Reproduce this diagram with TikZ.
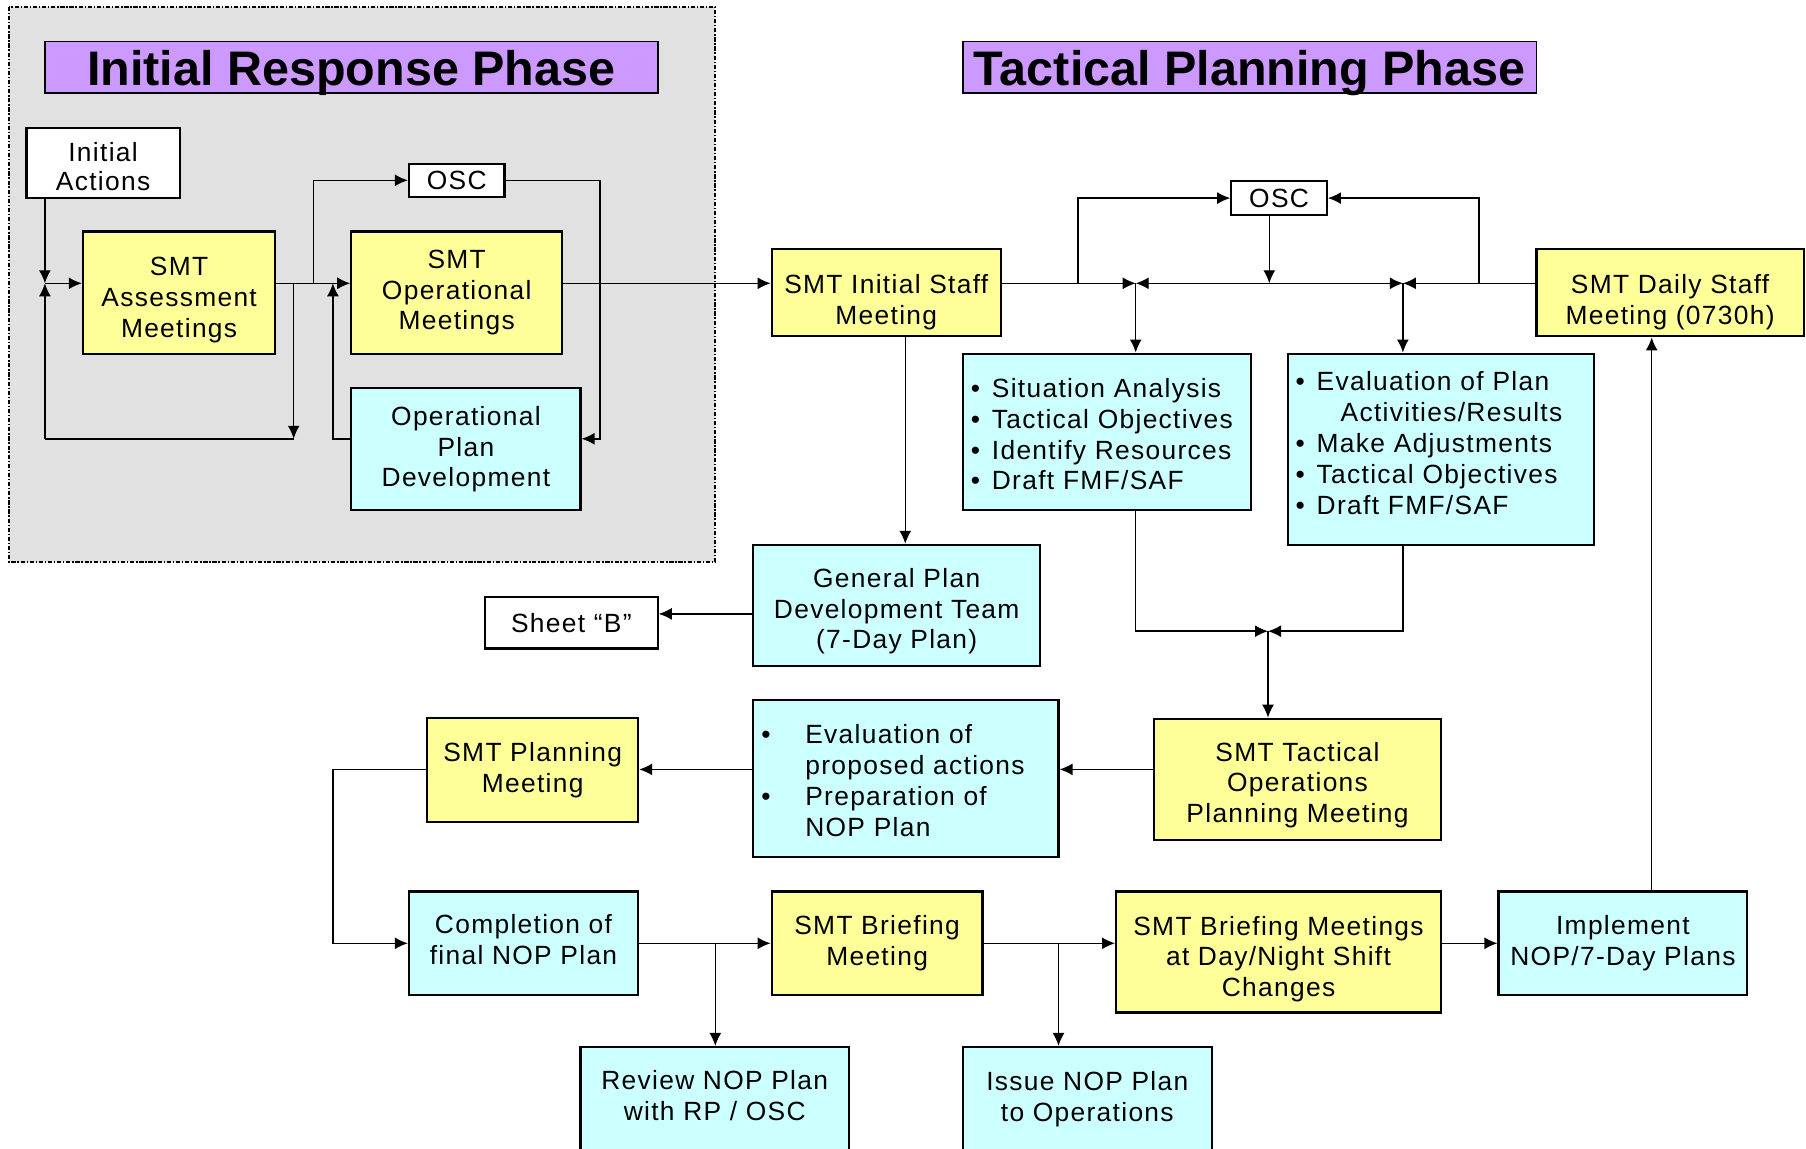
\documentclass[tikz,border=0pt]{standalone}
\usepackage{fontspec}
\setmainfont{Liberation Sans}[LetterSpace=5]
\newfontfamily\headfont{Liberation Sans}
\usetikzlibrary{arrows.meta,positioning}

\definecolor{yel}{HTML}{FFFF99}
\definecolor{cyn}{HTML}{CCFFFF}
\definecolor{lil}{HTML}{CC99FF}
\definecolor{gry}{HTML}{E1E1E1}

\newcommand{\bl}[2][0.21cm]{\makebox[#1][l]{•}#2}
\newcommand{\dn}[1]{\rule{0pt}{#1}}
\newcommand{\up}[1]{\rule[-#1]{0pt}{0pt}}

\tikzset{
  box/.style={draw,line width=0.6pt,inner sep=0pt,align=center,
    font=\fontsize{7.5}{8.8}\selectfont},
  ybox/.style={box,fill=yel},
  cbox/.style={box,fill=cyn},
  wbox/.style={box,fill=white},
  head/.style={draw,line width=0.5pt,fill=lil,inner sep=0pt,
    text height=0.36cm,text depth=0pt,
    font=\headfont\fontsize{13.8}{14}\selectfont\bfseries},
  list/.style={cbox,align=left,inner xsep=0.08cm}
}

\begin{document}
\begin{tikzpicture}[>={Latex[length=3.7pt,width=3.4pt]},line width=0.4pt]
\useasboundingbox (0,0) rectangle (18.06,-11.49);
\clip (0,0) rectangle (18.06,-11.49);

\draw[fill=gry,line width=0.5pt,dash pattern=on 1.2pt off 0.5pt on 0.4pt off 0.5pt]
  (0.092,-0.069) rectangle (7.153,-5.621);

\node[head,minimum width=6.128cm,minimum height=0.518cm] (irp) at (3.513,-0.674) {Initial Response Phase};
\node[head,minimum width=5.736cm,minimum height=0.518cm] (tpp) at (12.497,-0.674) {Tactical Planning Phase};

\node[wbox,minimum width=1.532cm,minimum height=0.703cm,font=\fontsize{7.5}{8}\selectfont] (ia) at (1.031,-1.630) {\dn{7.5pt}Initial\\Actions};
\node[ybox,minimum width=1.924cm,minimum height=1.221cm] (smta) at (1.791,-2.926) {\dn{9.5pt}SMT\\Assessment\\Meetings};
\node[wbox,minimum width=0.956cm,minimum height=0.334cm] (oscl) at (4.567,-1.803) {OSC};
\node[ybox,minimum width=2.108cm,minimum height=1.221cm] (smto) at (4.567,-2.926) {SMT\\Operational\\Meetings};
\node[cbox,minimum width=2.292cm,minimum height=1.220cm] (opd) at (4.659,-4.492) {Operational\\Plan\\Development};

\node[ybox,minimum width=2.292cm,minimum height=0.875cm] (smti) at (8.863,-2.926) {\dn{10.7pt}SMT Initial Staff\\Meeting};
\node[wbox,minimum width=0.956cm,minimum height=0.346cm] (oscr) at (12.791,-1.981) {OSC};
\node[ybox,minimum width=2.672cm,minimum height=0.875cm] (smtd) at (16.701,-2.926) {\dn{10.7pt}SMT Daily Staff\\Meeting (0730h)};
\node[list,minimum width=2.880cm,text width=2.72cm,minimum height=1.566cm] (sit) at (11.069,-4.319)
  {\bl{\dn{6.7pt}Situation Analysis}\\\bl{Tactical Objectives}\\\bl{Identify Resources}\\\bl{Draft FMF/SAF}};
\node[list,minimum width=3.064cm,text width=2.904cm,minimum height=1.912cm] (evp) at (14.409,-4.492)
  {\bl{Evaluation of Plan}\\\hspace*{0.45cm}Activities/Results\\\bl{Make Adjustments}\\\bl{Tactical Objectives}\\\bl{Draft FMF/SAF\up{3.5pt}}};
\node[cbox,minimum width=2.868cm,minimum height=1.209cm] (gpd) at (8.967,-6.053) {\dn{8.8pt}General Plan\\Development Team\\(7-Day Plan)};
\node[wbox,minimum width=1.728cm,minimum height=0.519cm] (shb) at (5.713,-6.226) {Sheet “B”};

\node[ybox,minimum width=2.868cm,minimum height=1.210cm] (sto) at (12.975,-7.792) {\dn{8.8pt}SMT Tactical\\Operations\\Planning Meeting};
\node[list,minimum width=3.052cm,text width=2.892cm,minimum height=1.566cm] (epa) at (9.059,-7.786)
  {\bl[0.44cm]{\dn{6.5pt}Evaluation of}\\\hspace*{0.44cm}proposed actions\\\bl[0.44cm]{Preparation of}\\\hspace*{0.44cm}NOP Plan};
\node[ybox,minimum width=2.108cm,minimum height=1.048cm] (spm) at (5.327,-7.700) {SMT Planning\\Meeting};

\node[cbox,minimum width=2.292cm,minimum height=1.037cm] (cfn) at (5.235,-9.433) {Completion of\\final NOP Plan\up{2pt}};
\node[ybox,minimum width=2.108cm,minimum height=1.037cm] (sbm) at (8.771,-9.433) {SMT Briefing\\Meeting};
\node[ybox,minimum width=3.248cm,minimum height=1.209cm] (sbd) at (12.785,-9.520) {\dn{9.5pt}SMT Briefing Meetings\\at Day/Night Shift\\Changes};
\node[cbox,minimum width=2.488cm,minimum height=1.037cm] (imp) at (16.229,-9.433) {Implement\\NOP/7-Day Plans};
\node[cbox,minimum width=2.684cm,minimum height=1.06cm] (rnp) at (7.147,-11.0) {Review NOP Plan\\with RP / OSC\up{2.5pt}};
\node[cbox,minimum width=2.488cm,minimum height=1.06cm] (inp) at (10.873,-11.0) {Issue NOP Plan\\to Operations\up{2pt}};

\coordinate (j0) at (0.449,-2.833);
\coordinate (lp) at (2.937,-2.833);
\coordinate (lpb) at (2.937,-4.388);
\coordinate (bo) at (3.133,-2.833);
\coordinate (ret) at (3.329,-2.833);
\coordinate (j1) at (11.357,-2.833);
\coordinate (od) at (12.693,-2.833);
\coordinate (j2) at (14.029,-2.833);
\coordinate (j3) at (12.680,-6.312);
\coordinate (br1) at (7.153,-9.433);
\coordinate (br2) at (10.585,-9.433);

\draw[->] (ia.south -| j0) -- (j0);
\draw[->] (lpb -| j0) -- (j0);
\draw[->] (j0) -- (smta.west |- j0);
\draw (smta.east |- lp) -- (lp);
\draw[->] (lp) -- (lpb);
\draw (lpb) -- (lpb -| j0);
\draw[->] (lp) -- (smto.west |- lp);
\draw[->] (bo) |- (oscl);
\draw[->] (oscl) -| (6.001,-4.388) -- (opd.east |- lpb);
\draw[->] (opd.west |- lpb) -| (ret);
\draw[->] (smto.east |- lp) -- (smti.west |- lp);

\draw[->] (smti.east |- j1) -- (j1);
\draw[->] (od) -- (j1);
\draw[->] (od) -- (j2);
\draw[->] (smtd.west |- j2) -- (j2);
\draw[->] (oscr.south -| od) -- (od);
\draw[->] (10.781,-2.833) |- (oscr);
\draw[->] (14.789,-2.833) |- (oscr);
\draw[->] (j1) -- (sit.north -| j1);
\draw[->] (j2) -- (evp.north -| j2);
\draw[->] (sit.south -| j1) |- (j3);
\draw[->] (evp.south -| j2) |- (j3);
\draw[->] (j3) -- (sto.north -| j3);

\draw[->] (smti.south -| 9.053,0) -- (gpd.north -| 9.053,0);
\draw[->] (gpd.west |- 0,-6.139) -- (shb.east |- 0,-6.139);
\draw[->] (sto.west |- 0,-7.694) -- (epa.east |- 0,-7.694);
\draw[->] (epa.west |- 0,-7.694) -- (spm.east |- 0,-7.694);
\draw[->] (spm.west |- 0,-7.694) -| (3.329,-9.433) -- (cfn.west);
\draw[->] (cfn.east) -- (sbm.west);
\draw[->] (br1) -- (rnp.north -| br1);
\draw[->] (sbm.east) -- (sbd.west |- sbm);
\draw[->] (br2) -- (inp.north -| br2);
\draw[->] (sbd.east |- imp) -- (imp.west);
\draw[->] (imp.north -| 16.517,0) -- (smtd.south -| 16.517,0);

\end{tikzpicture}
\end{document}
